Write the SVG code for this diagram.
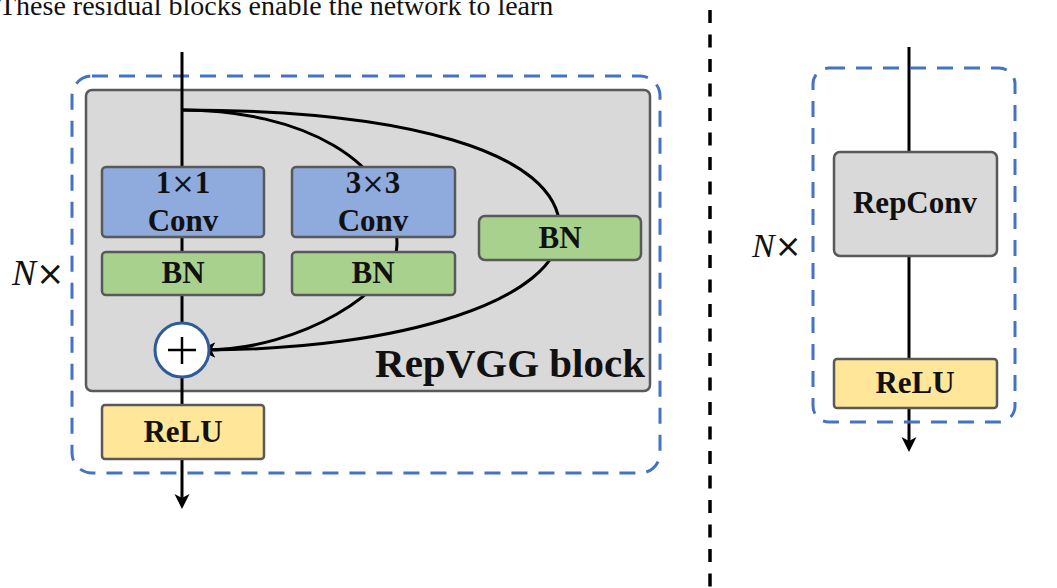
<svg xmlns="http://www.w3.org/2000/svg" width="1057" height="588" viewBox="0 0 1057 588">
<style>
.lbl{font-family:"Liberation Serif","Times New Roman",serif;font-weight:bold;font-size:31px;fill:#111;text-anchor:middle}
.big{font-size:41px;text-anchor:end}
.mul{font-family:"DejaVu Serif",serif;font-weight:normal;font-size:28px}
.box{stroke:#595959;stroke-width:2.5}
.conv{fill:#8faadc}
.bn{fill:#a9d18e}
.relu{fill:#ffe699}
.gray{fill:#d9d9d9}
.dash{fill:none;stroke:#4472c4;stroke-width:3;stroke-dasharray:16 11}
.wire{fill:none;stroke:#000;stroke-width:3}
.nx{font-family:"Liberation Serif","Times New Roman",serif;fill:#111}
</style>
<defs>
<marker id="ah" markerUnits="userSpaceOnUse" markerWidth="20" markerHeight="20" refX="11" refY="8" orient="auto">
<path d="M16,8 L1,0.5 L5,8 L1,15.5 Z" fill="#000"/>
</marker>
</defs>
<rect width="1057" height="588" fill="#fff"/>
<text x="-1" y="15" font-family="Liberation Serif,Times New Roman,serif" font-size="28" fill="#111">These residual blocks enable the network to learn</text>

<!-- separator -->
<line x1="710" y1="10" x2="710" y2="588" stroke="#000" stroke-width="3.5" stroke-dasharray="13 11.5"/>

<!-- left diagram -->
<g id="repeat-left">
<rect class="dash" x="72" y="76" width="588" height="397" rx="20"/>
<text class="nx" x="12" y="285" font-size="36"><tspan font-style="italic">N</tspan><tspan font-family="DejaVu Sans,sans-serif" font-size="34">×</tspan></text>
</g>
<g id="repvgg-block">
<rect class="box gray" x="86" y="90" width="564" height="301" rx="6"/>
<text class="lbl big" x="645" y="377">RepVGG block</text>
</g>

<g id="connectors">
<line class="wire" x1="182" y1="52" x2="182" y2="167"/>
<line class="wire" x1="182" y1="237" x2="182" y2="252"/>
<line class="wire" x1="182" y1="295" x2="182" y2="323"/>
<line class="wire" x1="182" y1="377" x2="182" y2="405"/>
<line class="wire" x1="182" y1="459" x2="182" y2="504" marker-end="url(#ah)"/>
<path class="wire" d="M182,110 C400,110 560,150 560,230 C560,300 400,350 205,350" marker-end="url(#ah)"/>
<path class="wire" d="M182,110 C300,110 397,160 397,244 C397,290 300,350 205,350" marker-end="url(#ah)"/>
<line class="wire" x1="909" y1="47" x2="909" y2="152"/>
<line class="wire" x1="909" y1="256" x2="909" y2="359"/>
<line class="wire" x1="909" y1="408" x2="909" y2="447" marker-end="url(#ah)"/>
</g>

<g id="conv1x1">
<rect class="box conv" x="102" y="167" width="162" height="70" rx="4"/>
<text class="lbl" x="183" y="193">1<tspan class="mul">×</tspan>1</text>
<text class="lbl" x="183" y="231">Conv</text>
</g>
<g id="bn1">
<rect class="box bn" x="102" y="252" width="162" height="43" rx="4"/>
<text class="lbl" x="183" y="283">BN</text>
</g>
<g id="conv3x3">
<rect class="box conv" x="292" y="167" width="163" height="70" rx="4"/>
<text class="lbl" x="373" y="193">3<tspan class="mul">×</tspan>3</text>
<text class="lbl" x="373" y="231">Conv</text>
</g>
<g id="bn2">
<rect class="box bn" x="292" y="252" width="163" height="43" rx="4"/>
<text class="lbl" x="373" y="283">BN</text>
</g>
<g id="bn3">
<rect class="box bn" x="479" y="216" width="162" height="44" rx="6"/>
<text class="lbl" x="560" y="248">BN</text>
</g>
<g id="add">
<circle cx="182" cy="350" r="27" fill="#fff" stroke="#2e5c9a" stroke-width="3"/>
<line x1="168" y1="350" x2="196" y2="350" stroke="#000" stroke-width="2.5"/>
<line x1="182" y1="337" x2="182" y2="364" stroke="#000" stroke-width="2.5"/>
</g>
<g id="relu-left">
<rect class="box relu" x="102" y="405" width="162" height="54" rx="3"/>
<text class="lbl" x="183" y="442">ReLU</text>
</g>

<!-- right diagram -->
<g id="repeat-right">
<rect class="dash" x="813" y="68" width="202" height="354" rx="16"/>
<text class="nx" x="752" y="257" font-size="34"><tspan font-style="italic">N</tspan><tspan font-family="DejaVu Sans,sans-serif" font-size="32">×</tspan></text>
</g>
<g id="repconv">
<rect class="box gray" x="834" y="152" width="163" height="104" rx="6"/>
<text class="lbl" x="915" y="213">RepConv</text>
</g>
<g id="relu-right">
<rect class="box relu" x="834" y="359" width="163" height="49" rx="3"/>
<text class="lbl" x="915" y="393">ReLU</text>
</g>
</svg>
